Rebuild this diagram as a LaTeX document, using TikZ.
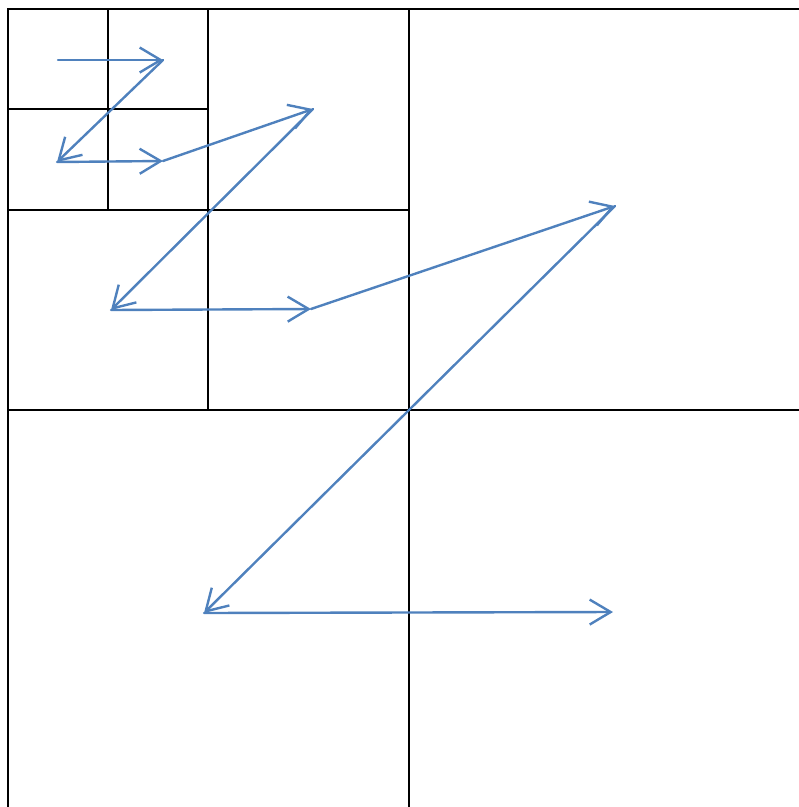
\documentclass[tikz,border=0pt]{standalone}
\usetikzlibrary{arrows.meta}
\definecolor{zblue}{RGB}{79,129,189}
\tikzset{
  gridline/.style={black, line width=1.2pt},
  zarrow/.style={zblue, line width=2.4pt, line cap=round, line join=round,
    -{Straight Barb[length=21pt,width=25pt,line width=2.4pt]}}
}
\begin{document}
\begin{tikzpicture}[x=1pt,y=-1pt]
\useasboundingbox (0,0) rectangle (799,807);
% grid
\draw[gridline] (799,9) -- (8,9) -- (8,807);
\draw[gridline] (409,9) -- (409,807);
\draw[gridline] (8,410) -- (799,410);
\draw[gridline] (8,210) -- (409,210);
\draw[gridline] (208,9) -- (208,410);
\draw[gridline] (8,109) -- (208,109);
\draw[gridline] (108,9) -- (108,210);
% path points
\coordinate (p0) at (58,60);
\coordinate (p1) at (163,60);
\coordinate (p2) at (57,162);
\coordinate (p3) at (163,161);
\coordinate (p4) at (313,109);
\coordinate (p5) at (111,310);
\coordinate (p6) at (311,309);
\coordinate (p7) at (615,206);
\coordinate (p8) at (204,613);
\coordinate (p9) at (613,612);
\draw[zarrow] (p0) -- (p1);
\draw[zarrow] (p1) -- (p2);
\draw[zarrow] (p2) -- (p3);
\draw[zarrow] (p3) -- (p4);
\draw[zarrow] (p4) -- (p5);
\draw[zarrow] (p5) -- (p6);
\draw[zarrow] (p6) -- (p7);
\draw[zarrow] (p7) -- (p8);
\draw[zarrow] (p8) -- (p9);
\end{tikzpicture}
\end{document}
